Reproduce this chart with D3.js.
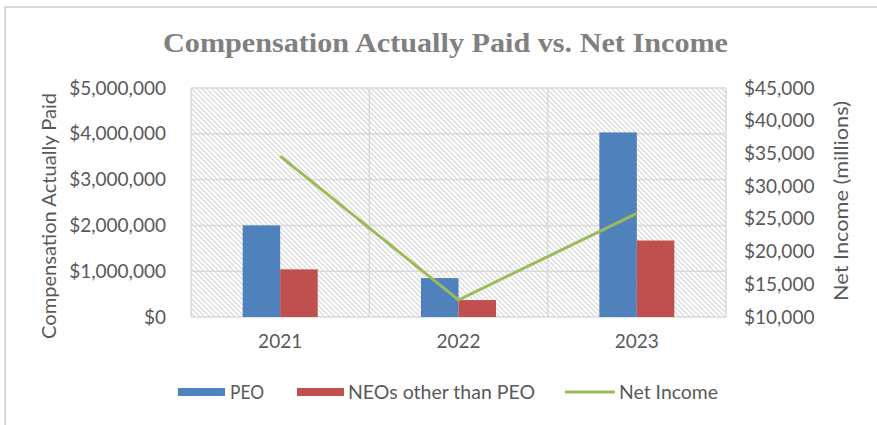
<!DOCTYPE html>
<html>
<head>
<meta charset="utf-8">
<script src="https://cdn.jsdelivr.net/npm/d3@7"></script>
<style>
  body { margin: 0; background: #fff; }
  text { font-family: Lato, "Open Sans", sans-serif; fill: #595959; }
</style>
</head>
<body>
<div id="chart"></div>
<script>
// Chart data
const years = ["2021", "2022", "2023"];
const peo = [2000000, 850000, 4030000];
const neos = [1040000, 370000, 1670000];
const netIncome = [34600, 12600, 25850];
const leftTicks = [0, 1000000, 2000000, 3000000, 4000000, 5000000];
const rightTicks = [10000, 15000, 20000, 25000, 30000, 35000, 40000, 45000];
const seriesNames = ["PEO", "NEOs other than PEO", "Net Income"];

const W = 877, H = 425;
const margin = {top: 88, right: 151, bottom: 108, left: 191};
const width = W - margin.left - margin.right,
  height = H - margin.top - margin.bottom;

const colors = {peo: "#4f81bd", neo: "#c0504d", line: "#9bbb59", grid: "#d9d9d9"};

const svg = d3.select("#chart")
  .append("svg")
  .attr("width", W)
  .attr("height", H);

// hatch pattern for the plot area
const defs = svg.append("defs");
const pat = defs.append("pattern")
  .attr("id", "hatch")
  .attr("patternUnits", "userSpaceOnUse")
  .attr("width", 5)
  .attr("height", 5);
pat.append("rect").attr("width", 5).attr("height", 5).attr("fill", "#fff");
pat.append("path")
  .attr("d", "M-1,-1 L6,6 M-1,4 L1,6 M4,-1 L6,1")
  .attr("stroke", "#d4d4d4")
  .attr("stroke-width", 1.1);

// outer chart border (only top and left show)
svg.append("path")
  .attr("d", `M5,${H} L5,7 L${W},7`)
  .attr("fill", "none")
  .attr("stroke", "#d9d9d9")
  .attr("stroke-width", 2);

// Title
svg.append("text")
  .attr("x", 163)
  .attr("y", 52)
  .attr("textLength", 565)
  .attr("lengthAdjust", "spacingAndGlyphs")
  .style("font-family", "'Liberation Serif', 'DejaVu Serif', serif")
  .style("font-weight", "bold")
  .style("font-size", "27px")
  .style("fill", "#808080")
  .text("Compensation Actually Paid vs. Net Income");

const g = svg.append("g")
  .attr("transform", `translate(${margin.left},${margin.top})`);

// Scales
const x = d3.scaleBand()
  .domain(years)
  .range([0, width]);

const xSub = d3.scaleBand()
  .domain(["peo", "neo"])
  .range([0, 75])
  .padding(0);

const yLeft = d3.scaleLinear()
  .domain([0, 5000000])
  .range([height, 0]);

const yRight = d3.scaleLinear()
  .domain([10000, 45000])
  .range([height, 0]);

// plot area background
g.append("rect")
  .attr("width", width)
  .attr("height", height)
  .attr("fill", "url(#hatch)");

// horizontal gridlines
g.selectAll(".hgrid")
  .data(leftTicks)
  .join("line")
  .attr("class", "hgrid")
  .attr("x1", 0)
  .attr("x2", width)
  .attr("y1", d => yLeft(d))
  .attr("y2", d => yLeft(d))
  .attr("stroke", colors.grid)
  .attr("stroke-width", 1.5);

// vertical gridlines at category boundaries
const bounds = years.map(d => x(d)).concat([width]);
g.selectAll(".vgrid")
  .data(bounds)
  .join("line")
  .attr("class", "vgrid")
  .attr("x1", d => d)
  .attr("x2", d => d)
  .attr("y1", 0)
  .attr("y2", height)
  .attr("stroke", colors.grid)
  .attr("stroke-width", 1.5);

// Bars
const barData = years.map((yr, i) => ({year: yr, peo: peo[i], neo: neos[i]}));
const groups = g.selectAll(".year")
  .data(barData)
  .join("g")
  .attr("class", "year")
  .attr("transform", d => `translate(${x(d.year) + x.bandwidth() / 2 - 37.5},0)`);

groups.selectAll("rect")
  .data(d => [{key: "peo", value: d.peo}, {key: "neo", value: d.neo}])
  .join("rect")
  .attr("x", d => xSub(d.key))
  .attr("width", xSub.bandwidth())
  .attr("y", d => yLeft(d.value))
  .attr("height", d => height - yLeft(d.value))
  .attr("fill", d => colors[d.key]);

// Net income line
const lineData = years.map((yr, i) => ({year: yr, value: netIncome[i]}));
const line = d3.line()
  .x(d => x(d.year) + x.bandwidth() / 2)
  .y(d => yRight(d.value));

g.append("path")
  .datum(lineData)
  .attr("fill", "none")
  .attr("stroke", colors.line)
  .attr("stroke-width", 3)
  .attr("d", line);

// Axes
const fmtMoney = d3.format("$,.0f");

const leftAxis = g.append("g")
  .call(d3.axisLeft(yLeft).tickValues(leftTicks).tickFormat(fmtMoney).tickSize(0).tickPadding(25));
leftAxis.select(".domain").remove();
leftAxis.selectAll("text").style("font-size", "19px").style("fill", "#595959");

const rightAxis = g.append("g")
  .attr("transform", `translate(${width},0)`)
  .call(d3.axisRight(yRight).tickValues(rightTicks).tickFormat(fmtMoney).tickSize(0).tickPadding(18));
rightAxis.select(".domain").remove();
rightAxis.selectAll("text").style("font-size", "19px").style("fill", "#595959");

const bottomAxis = g.append("g")
  .attr("transform", `translate(0,${height})`)
  .call(d3.axisBottom(x).tickSize(0).tickPadding(18));
bottomAxis.select(".domain").remove();
bottomAxis.selectAll("text").style("font-size", "19px").style("fill", "#595959");

// Axis titles
svg.append("text")
  .attr("transform", "translate(56,216) rotate(-90)")
  .attr("text-anchor", "middle")
  .attr("textLength", 246)
  .attr("lengthAdjust", "spacingAndGlyphs")
  .style("font-size", "19px")
  .text("Compensation Actually Paid");

svg.append("text")
  .attr("transform", "translate(848,201) rotate(-90)")
  .attr("text-anchor", "middle")
  .attr("textLength", 200)
  .attr("lengthAdjust", "spacingAndGlyphs")
  .style("font-size", "19px")
  .text("Net Income (millions)");

// Legend
const legendItems = [
  {name: seriesNames[0], type: "rect", color: colors.peo, x: 178, tx: 230, len: 34},
  {name: seriesNames[1], type: "rect", color: colors.neo, x: 297, tx: 348, len: 187},
  {name: seriesNames[2], type: "line", color: colors.line, x: 565, tx: 619, len: 99}
];
const legend = svg.append("g").attr("transform", "translate(0,392)");
legendItems.forEach(d => {
  if (d.type === "rect") {
    legend.append("rect")
      .attr("x", d.x).attr("y", -4)
      .attr("width", 47).attr("height", 8)
      .attr("fill", d.color);
  } else {
    legend.append("line")
      .attr("x1", d.x).attr("x2", d.x + 50)
      .attr("y1", 0).attr("y2", 0)
      .attr("stroke", d.color).attr("stroke-width", 3);
  }
  legend.append("text")
    .attr("x", d.tx)
    .attr("y", 7)
    .attr("textLength", d.len)
    .attr("lengthAdjust", "spacingAndGlyphs")
    .style("font-size", "19px")
    .text(d.name);
});
</script>
</body>
</html>
